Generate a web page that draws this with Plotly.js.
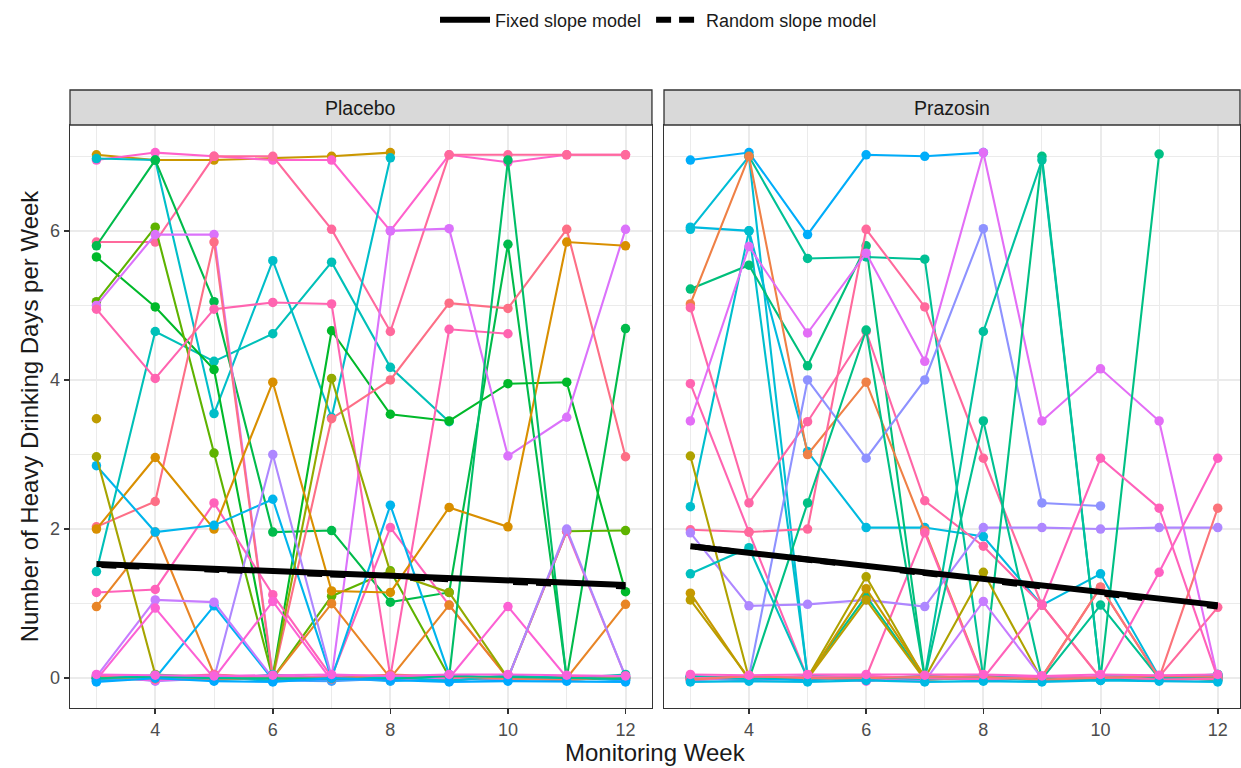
<!DOCTYPE html>
<html><head><meta charset="utf-8">
<script src="https://cdn.plot.ly/plotly-3.0.1.min.js"></script>
<style>html,body{margin:0;padding:0;background:#fff;overflow:hidden}</style>
</head><body><div id="chart" style="width:1241px;height:768px"></div>
<script>
// ---------- data ----------
const weeks = [3, 4, 5, 6, 7, 8, 9, 10, 11, 12];
const panelNames = ['Placebo', 'Prazosin'];
const xTickVals = [4, 6, 8, 10, 12];
const yTickVals = [0, 2, 4, 6];
const legendNames = ['Fixed slope model', 'Random slope model'];

const placeboSubjects = [
  [7.02, 6.95, 6.95, 6.97, 7.0, 7.05, null, null, null, null],
  [6.95, 7.05, 7.0, 6.95, 6.95, 6.0, 7.02, 6.92, 7.02, 7.02],
  [5.85, 5.85, 7.0, 7.0, 6.02, 4.65, 7.02, 7.02, 7.02, 7.02],
  [6.97, 6.95, 3.55, 5.6, 3.5, 6.98, null, null, null, null],
  [1.43, 4.65, 4.25, 4.62, 5.58, 4.17, 3.44, null, null, null],
  [5.8, 6.95, 5.05, 1.96, 1.98, 1.02, 1.15, 5.82, 0.0, 4.69],
  [5.65, 4.98, 4.14, 0.03, 4.66, 3.54, 3.45, 3.95, 3.97, 1.16],
  [5.05, 6.05, 3.02, 0.0, 1.1, 1.44, 0.02, 0.0, 1.97, 1.98],
  [5.0, 5.95, 5.95, 0.02, 0.0, 6.0, 6.03, 2.98, 3.5, 6.02],
  [4.95, 4.02, 4.95, 5.04, 5.02, 0.02, 4.68, 4.62, null, null],
  [2.03, 2.37, 5.85, 0.0, 3.48, 4.0, 5.03, 4.96, 6.02, 2.97],
  [1.15, 1.19, 2.35, 1.12, 0.02, 2.02, 0.98, 0.0, 1.97, 0.02],
  [2.0, 2.96, 2.0, 3.97, 1.17, 1.15, 2.29, 2.03, 5.85, 5.8],
  [0.96, 1.96, 0.05, 0.0, 1.0, 0.0, 0.98, 0.0, 0.0, 0.99],
  [2.85, 1.96, 2.05, 2.4, 0.0, 2.32, 0.05, -0.02, 0.01, -0.03],
  [-0.03, 0.0, 0.97, -0.02, 0.01, -0.04, 0.0, -0.03, 0.02, -0.02],
  [0.02, 1.05, 1.02, 0.0, 0.03, 0.01, -0.03, 0.02, 0.0, 0.04],
  [2.97, 0.05, 0.01, 0.0, -0.02, 0.03, 0.0, 0.02, -0.01, 0.0],
  [3.48, null, null, null, null, null, null, null, null, null],
  [0.0, -0.02, 0.01, 0.02, 4.02, 1.42, 1.15, 0.0, 0.03, 0.0],
  [-0.02, 0.94, 0.0, 1.03, -0.03, 0.02, 0.0, 0.96, 0.01, 0.0],
  [0.01, 0.03, -0.02, 0.0, 0.02, 0.0, 0.02, 6.95, -0.02, 0.01],
  [0.04, -0.04, 0.0, 3.0, 0.02, -0.03, 0.01, 0.0, 2.0, 0.02],
  [0.0, 0.02, -0.03, 0.05, 0.0, 0.02, -0.02, 0.01, 0.0, 0.05],
  [-0.04, 0.01, 0.03, -0.03, -0.04, 0.0, 0.03, -0.02, 0.03, -0.03],
  [0.02, -0.03, 0.01, 0.02, 0.01, -0.02, 0.0, 0.03, -0.01, 0.02],
  [0.03, 0.02, 0.05, -0.01, 0.03, 0.04, 0.01, -0.01, 0.02, 0.0],
  [-0.01, 0.04, 0.02, -0.04, 0.0, 0.02, -0.04, 0.04, 0.0, 0.01],
  [0.01, -0.01, -0.02, 0.01, -0.01, 0.05, 0.02, 0.0, -0.03, 0.03],
  [0.0, 0.02, 0.0, 0.0, 0.0, -0.01, 0.03, 0.02, 0.01, -0.01],
  [-0.05, 0.0, -0.04, -0.05, 0.0, -0.03, -0.05, -0.04, -0.04, -0.05],
  [0.05, 0.04, 0.03, 0.04, 0.05, 0.03, 0.05, 0.05, 0.04, 0.03]
];
const placeboHues = [62, 330, 355, 198, 188, 140, 132, 115, 295, 345, 5, 340, 50, 35, 222,
                     228, 285, 85, 70, 95, 325, 150, 275, 185, 250, 310, 350, 205, 20, 165, 240, 320];

const prazosinSubjects = [
  [6.95, 7.05, 5.95, 7.02, 7.0, 7.05, null, null, null, null],
  [6.05, 6.0, 3.04, 2.02, 2.02, 1.9, 0.98, 1.4, 0.02, 0.05],
  [6.02, 7.0, 0.0, -0.02, 0.01, -0.03, 0.0, null, null, null],
  [2.3, 6.0, 0.03, 0.0, -0.02, 0.01, -0.03, 0.0, 0.02, -0.03],
  [5.22, 5.54, 4.19, 5.8, 0.0, 0.02, -0.02, 0.0, 0.03, 0.0],
  [null, 7.0, 5.63, 5.65, 5.62, 0.0, -0.02, 0.01, 0.0, 0.05],
  [5.02, 7.0, 3.0, 3.97, 1.98, 0.0, 0.02, 1.22, 0.0, 0.03],
  [4.97, 2.35, 3.44, 4.65, 2.38, 1.77, 0.98, 0.0, 0.02, 0.0],
  [3.95, 1.96, 0.0, 0.02, 1.95, -0.02, 0.01, 0.0, -0.01, 0.02],
  [1.99, 1.96, 2.0, 6.02, 4.98, 2.95, 0.98, 0.0, 0.02, 0.95],
  [3.45, 5.79, 4.63, 5.7, 4.25, 7.05, 3.45, 4.15, 3.45, 0.0],
  [1.95, 0.97, 0.99, 1.05, 0.96, 2.02, 2.02, 2.0, 2.02, 2.02],
  [0.0, 0.02, 4.0, 2.95, 4.0, 6.03, 2.35, 2.31, null, null],
  [0.02, -0.02, 2.35, 4.67, 0.0, 0.01, 7.0, 0.0, 7.03, null],
  [0.0, 0.01, -0.02, 0.0, 0.02, 4.65, 6.95, 0.0, 0.01, 0.02],
  [-0.02, 0.0, 0.02, 1.1, 0.0, 3.45, -0.01, 0.98, 0.0, 0.0],
  [2.98, 0.0, 0.01, 1.36, 0.0, 1.42, -0.02, 0.0, 0.01, -0.02],
  [1.14, -0.02, 0.0, 1.2, 0.02, 0.0, 0.0, -0.01, 0.0, 0.0],
  [1.05, 0.0, -0.01, 1.05, -0.02, 0.01, 0.0, 0.02, -0.02, 0.01],
  [1.4, 1.75, 0.0, 0.02, 0.0, 0.01, 0.0, -0.02, 0.0, 0.03],
  [0.02, 0.0, 0.01, 0.0, 0.03, 0.0, 0.99, 2.95, 2.28, 0.0],
  [0.0, 0.03, 0.0, 0.03, -0.02, 0.02, 0.01, 1.22, 0.0, 2.28],
  [-0.01, 0.0, 0.02, 0.0, 0.01, 0.03, 0.0, 0.0, 1.42, 2.95],
  [0.0, -0.03, 0.0, 0.0, -0.04, 1.03, 0.0, 0.01, 0.02, 0.0],
  [0.03, 0.0, -0.03, 0.02, 0.0, 0.0, 0.02, -0.02, 0.0, 0.04],
  [-0.03, 0.02, 0.01, -0.04, 0.02, -0.02, 0.03, 0.01, -0.03, 0.0],
  [0.01, -0.01, 0.03, 0.01, -0.01, 0.03, -0.03, 0.03, 0.02, -0.02],
  [0.02, 0.01, -0.01, -0.01, 0.03, 0.0, 0.0, -0.03, 0.01, 0.01],
  [0.0, 0.02, 0.02, 0.03, 0.0, -0.01, 0.02, 0.02, -0.02, -0.01],
  [-0.02, 0.03, 0.0, 0.0, 0.02, 0.02, -0.02, 0.0, 0.03, 0.02],
  [-0.05, -0.04, -0.05, -0.03, -0.05, -0.04, -0.05, -0.03, -0.04, -0.05],
  [0.05, 0.04, 0.05, 0.05, 0.04, 0.05, 0.03, 0.05, 0.04, 0.05]
];
const prazosinHues = [235, 212, 205, 200, 158, 170, 28, 350, 345, 355, 300, 275, 265, 162, 175,
                      168, 80, 65, 72, 192, 340, 10, 335, 285, 230, 320, 195, 180, 345, 15, 215, 330];

const modelWeeks = [3, 12];
const fixedPlacebo = [1.53, 1.25];
const randomPlacebo = [1.52, 1.23];
const fixedPrazosin = [1.77, 0.98];
const randomPrazosin = [1.77, 0.96];

// ---------- helpers ----------
function hcl(h, c = 100, l = 65) {
  const hr = h * Math.PI / 180;
  const u = c * Math.cos(hr), v = c * Math.sin(hr);
  const un = 0.19784, vn = 0.46834;
  const Y = 100 * Math.pow((l + 16) / 116, 3);
  const up = u / (13 * l) + un, vp = v / (13 * l) + vn;
  const X = Y * 9 * up / (4 * vp);
  const Z = Y * (12 - 3 * up - 20 * vp) / (4 * vp);
  const x = X / 100, y = Y / 100, z = Z / 100;
  const r = 3.2404542 * x - 1.5371385 * y - 0.4985314 * z;
  const g = -0.9692660 * x + 1.8760108 * y + 0.0415560 * z;
  const b = 0.0556434 * x - 0.2040259 * y + 1.0572252 * z;
  const gam = t => {
    t = t <= 0.0031308 ? 12.92 * t : 1.055 * Math.pow(t, 1 / 2.4) - 0.055;
    return Math.round(255 * Math.min(1, Math.max(0, t)));
  };
  return `rgb(${gam(r)},${gam(g)},${gam(b)})`;
}

const traces = [];
function addSubjects(subjects, hues, xa, ya) {
  subjects.forEach((vals, i) => {
    const col = hcl(hues[i]);
    traces.push({
      type: 'scatter', mode: 'lines+markers', x: weeks, y: vals,
      xaxis: xa, yaxis: ya, showlegend: false, hoverinfo: 'skip',
      line: {color: col, width: 2.1}, marker: {color: col, size: 9.5}
    });
  });
}
addSubjects(placeboSubjects, placeboHues, 'x', 'y');
addSubjects(prazosinSubjects, prazosinHues, 'x2', 'y2');

function addModels(fixedVals, randomVals, xa, ya, show) {
  traces.push({
    type: 'scatter', mode: 'lines', x: modelWeeks, y: fixedVals, xaxis: xa, yaxis: ya,
    name: legendNames[0], legendgroup: 'fixed', showlegend: show,
    line: {color: '#000000', width: 6}
  });
  traces.push({
    type: 'scatter', mode: 'lines', x: modelWeeks, y: randomVals, xaxis: xa, yaxis: ya,
    name: legendNames[1], legendgroup: 'random', showlegend: show,
    line: {color: '#000000', width: 6, dash: '0px,5px,15px,8px,15px,60px'}
  });
}
addModels(fixedPlacebo, randomPlacebo, 'x', 'y', true);
addModels(fixedPrazosin, randomPrazosin, 'x2', 'y2', false);

const d1 = [0, 0.4974], d2 = [0.5077, 1];
const tickFont = {family: 'Liberation Sans, Arial, sans-serif', size: 18, color: '#4d4d4d'};
function xAxis(domain, anchor, range) {
  return {
    domain: domain, anchor: anchor, range: range,
    tickmode: 'array', tickvals: xTickVals, ticktext: xTickVals.map(String),
    ticks: 'outside', ticklen: 5, tickwidth: 1.6, tickcolor: '#333333', tickfont: tickFont,
    showgrid: true, gridcolor: '#ebebeb', gridwidth: 2,
    minor: {tickmode: 'array', tickvals: [3, 5, 7, 9, 11], showgrid: true, gridcolor: '#ebebeb', gridwidth: 1, ticks: ''},
    showline: true, mirror: true, linecolor: '#333333', linewidth: 1.3, zeroline: false
  };
}
function yAxis(anchor, showLabels) {
  return {
    anchor: anchor, range: [-0.4, 7.42],
    tickmode: 'array', tickvals: yTickVals, ticktext: yTickVals.map(String),
    ticks: showLabels ? 'outside' : '', ticklen: 5, tickwidth: 1.6, tickcolor: '#333333',
    showticklabels: showLabels, tickfont: tickFont,
    showgrid: true, gridcolor: '#ebebeb', gridwidth: 2,
    minor: {tickmode: 'array', tickvals: [1, 3, 5, 7], showgrid: true, gridcolor: '#ebebeb', gridwidth: 1, ticks: ''},
    showline: true, mirror: true, linecolor: '#333333', linewidth: 1.3, zeroline: false
  };
}

const stripTop = 1.06;
const layout = {
  width: 1241, height: 768,
  margin: {l: 70, r: 1, t: 125, b: 60},
  paper_bgcolor: '#ffffff', plot_bgcolor: '#ffffff',
  font: {family: 'Liberation Sans, Arial, sans-serif', color: '#1a1a1a'},
  showlegend: true,
  legend: {
    orientation: 'h', x: 0.503, xanchor: 'center', y: 1.18, yanchor: 'middle',
    font: {size: 18, color: '#1a1a1a'}, itemwidth: 50, bgcolor: 'rgba(0,0,0,0)'
  },
  xaxis: xAxis(d1, 'y', [2.55, 12.45]),
  xaxis2: xAxis(d2, 'y2', [2.55, 12.38]),
  yaxis: Object.assign(yAxis('x', true), {
    title: {text: 'Number of Heavy Drinking Days per Week', font: {size: 24, color: '#1a1a1a'}, standoff: 4}
  }),
  yaxis2: yAxis('x2', false),
  shapes: [d1, d2].map(d => ({
    type: 'rect', xref: 'paper', yref: 'paper', x0: d[0], x1: d[1], y0: 1, y1: stripTop,
    fillcolor: '#d9d9d9', line: {color: '#333333', width: 1.3}, layer: 'above'
  })),
  annotations: [
    ...[d1, d2].map((d, i) => ({
      xref: 'paper', yref: 'paper', x: (d[0] + d[1]) / 2, y: (1 + stripTop) / 2,
      xanchor: 'center', yanchor: 'middle', showarrow: false,
      text: panelNames[i], font: {size: 19.5, color: '#1a1a1a'}
    })),
    {
      xref: 'paper', yref: 'paper', x: 0.5, y: -0.077, xanchor: 'center', yanchor: 'middle',
      showarrow: false, text: 'Monitoring Week', font: {size: 24, color: '#1a1a1a'}
    }
  ]
};

Plotly.newPlot('chart', traces, layout, {displayModeBar: false, staticPlot: true});
</script>
</body></html>
